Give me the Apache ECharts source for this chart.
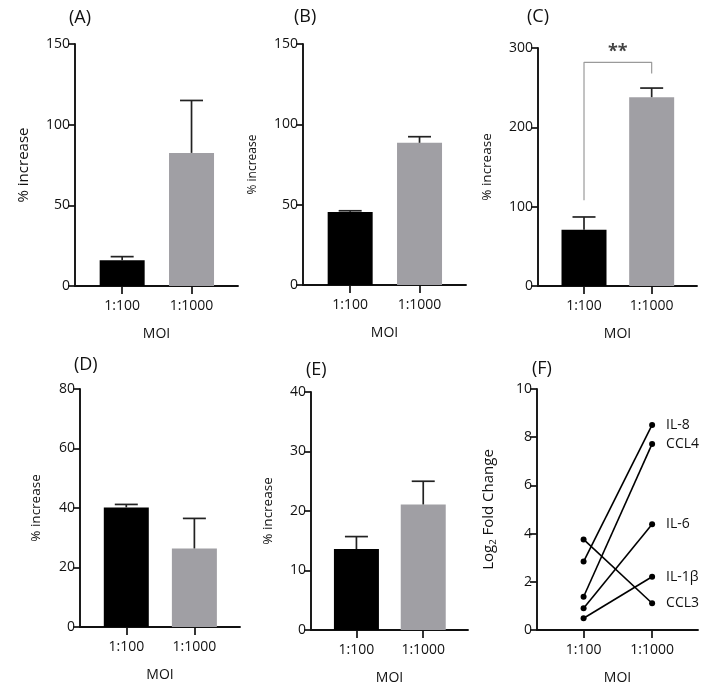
<!DOCTYPE html>
<html>
<head>
<meta charset="utf-8">
<script src="https://cdn.jsdelivr.net/npm/echarts@6/dist/echarts.min.js"></script>
<style>
  html, body { margin: 0; padding: 0; background: #fff; }
  #main { width: 714px; height: 695px; }
</style>
</head>
<body>
<div id="main"></div>
<script>
// categories
const mois = ['1:100', '1:1000'];
const barColors = ['#000000', '#a09fa4'];

// bar panels: mean and upper error (SD)
const meanA = [16, 82.5];
const errA = [2.2, 32.5];
const meanB = [45.5, 88.5];
const errB = [0.7, 3.8];
const meanC = [71, 238];
const errC = [16, 11.5];
const meanD = [40.2, 26.4];
const errD = [1.0, 10.1];
const meanE = [13.6, 21.1];
const errE = [2.1, 3.9];

// significance bracket in (C): left leg bottom, top, right leg bottom
const bracketC = [108, 282, 268];
const sigC = '**';

// panel F: log2 fold change
const cytokines = ['IL-8', 'CCL4', 'IL-6', 'IL-1β', 'CCL3'];
const fold100 = [2.84, 1.38, 0.9, 0.49, 3.76];
const fold1000 = [8.51, 7.72, 4.39, 2.21, 1.11];

const FONT = '"Open Sans", sans-serif';
const INK = '#111';

const panels = [
  { tag: '(A)', mean: meanA, err: errA, max: 150, step: 50, grid: { left: 75, top: 44, width: 163, height: 242 }, tpos: [69, 9], gap: 44, nsize: 15 },
  { tag: '(B)', mean: meanB, err: errB, max: 150, step: 50, grid: { left: 303, top: 44, width: 163, height: 241 }, tpos: [294, 8], gap: 44, nsize: 12 },
  { tag: '(C)', mean: meanC, err: errC, max: 300, step: 100, grid: { left: 538, top: 48, width: 159, height: 238 }, tpos: [527, 8], gap: 44, nsize: 13.5 },
  { tag: '(D)', mean: meanD, err: errD, max: 80, step: 20, grid: { left: 80, top: 389, width: 160, height: 238 }, tpos: [74, 356], gap: 37, nsize: 13.5 },
  { tag: '(E)', mean: meanE, err: errE, max: 40, step: 10, grid: { left: 311, top: 392, width: 157, height: 238 }, tpos: [306, 361], gap: 36, nsize: 13.5 },
  { tag: '(F)', max: 10, step: 2, grid: { left: 537, top: 389, width: 161, height: 241 }, tpos: [532, 360], gap: 39, nsize: 15 }
];

function errRender(params, api) {
  const x = api.value(0);
  const v = api.value(1);
  const e = api.value(2);
  const base = api.coord([x, v]);
  const tip = api.coord([x, v + e]);
  const half = 11.5;
  const st = { stroke: '#222', lineWidth: 1.7 };
  return {
    type: 'group',
    children: [
      { type: 'line', shape: { x1: base[0], y1: base[1], x2: tip[0], y2: tip[1] }, style: st },
      { type: 'line', shape: { x1: tip[0] - half, y1: tip[1], x2: tip[0] + half, y2: tip[1] }, style: st }
    ]
  };
}

const grid = [], xAxis = [], yAxis = [], series = [], title = [];

panels.forEach(function (p, i) {
  grid.push(Object.assign({ containLabel: false, outerBoundsMode: 'none' }, p.grid));
  title.push({
    text: p.tag, left: p.tpos[0], top: p.tpos[1], padding: 0,
    textStyle: { fontFamily: FONT, fontSize: 18, fontWeight: 'normal', color: INK }
  });
  xAxis.push({
    gridIndex: i, type: 'value', min: 0.32, max: 2.67,
    name: 'MOI', nameLocation: 'middle', nameGap: 41,
    nameTextStyle: { fontFamily: FONT, fontSize: 14, color: INK },
    splitLine: { show: false },
    axisLine: { show: true, lineStyle: { color: INK, width: 1.9 } },
    axisTick: { show: true, length: 8, customValues: [1, 2], lineStyle: { color: INK, width: 1.7 } },
    axisLabel: {
      customValues: [1, 2], margin: 13,
      fontFamily: FONT, fontSize: 14, color: INK,
      formatter: function (v) { return mois[Math.round(v) - 1]; }
    }
  });
  const isF = i === 5;
  yAxis.push({
    gridIndex: i, type: 'value', min: 0, max: p.max, interval: p.step,
    name: isF ? 'Log{s|2} Fold Change' : '% increase',
    nameLocation: 'middle', nameGap: p.gap, nameRotate: 90,
    nameTextStyle: {
      fontFamily: FONT, fontSize: p.nsize, color: INK,
      rich: { s: { fontFamily: FONT, fontSize: 9.5, color: INK, padding: [8, 0, 0, 0] } }
    },
    splitLine: { show: false },
    axisLine: { show: true, lineStyle: { color: INK, width: 1.9 } },
    axisTick: { show: true, length: 7, lineStyle: { color: INK, width: 1.7 } },
    axisLabel: { margin: 5, fontFamily: FONT, fontSize: 14, color: INK }
  });

  if (!isF) {
    series.push({
      type: 'bar', xAxisIndex: i, yAxisIndex: i, barWidth: 45, z: 2,
      data: p.mean.map(function (v, k) {
        return { value: [k + 1, v], itemStyle: { color: barColors[k] } };
      })
    });
    series.push({
      type: 'custom', xAxisIndex: i, yAxisIndex: i, z: 3,
      renderItem: errRender,
      data: p.mean.map(function (v, k) { return [k + 1, v, p.err[k]]; })
    });
  }
});

// significance bracket on (C)
series.push({
  type: 'line', xAxisIndex: 2, yAxisIndex: 2, symbol: 'none', z: 1,
  lineStyle: { color: '#9a9a9a', width: 1.2 },
  data: [[1, bracketC[0]], [1, bracketC[1]], [2, bracketC[1]], [2, bracketC[2]]]
});
series.push({
  type: 'scatter', xAxisIndex: 2, yAxisIndex: 2, symbolSize: 0,
  label: { show: true, position: 'top', distance: 1, formatter: sigC, fontFamily: FONT, fontSize: 18, fontWeight: 'bold', color: INK },
  data: [[1.5, bracketC[1]]]
});

// panel F lines
cytokines.forEach(function (name, k) {
  series.push({
    type: 'line', name: name, xAxisIndex: 5, yAxisIndex: 5,
    symbol: 'circle', symbolSize: 6,
    itemStyle: { color: '#000' },
    lineStyle: { color: '#000', width: 1.6 },
    endLabel: { show: true, formatter: '{a}', distance: 14, fontFamily: FONT, fontSize: 14, color: INK },
    data: [[1, fold100[k]], [2, fold1000[k]]]
  });
});

const chart = echarts.init(document.getElementById('main'), null, { renderer: 'canvas' });
chart.setOption({
  animation: false,
  backgroundColor: '#fff',
  title: title,
  grid: grid,
  xAxis: xAxis,
  yAxis: yAxis,
  series: series
});
</script>
</body>
</html>
